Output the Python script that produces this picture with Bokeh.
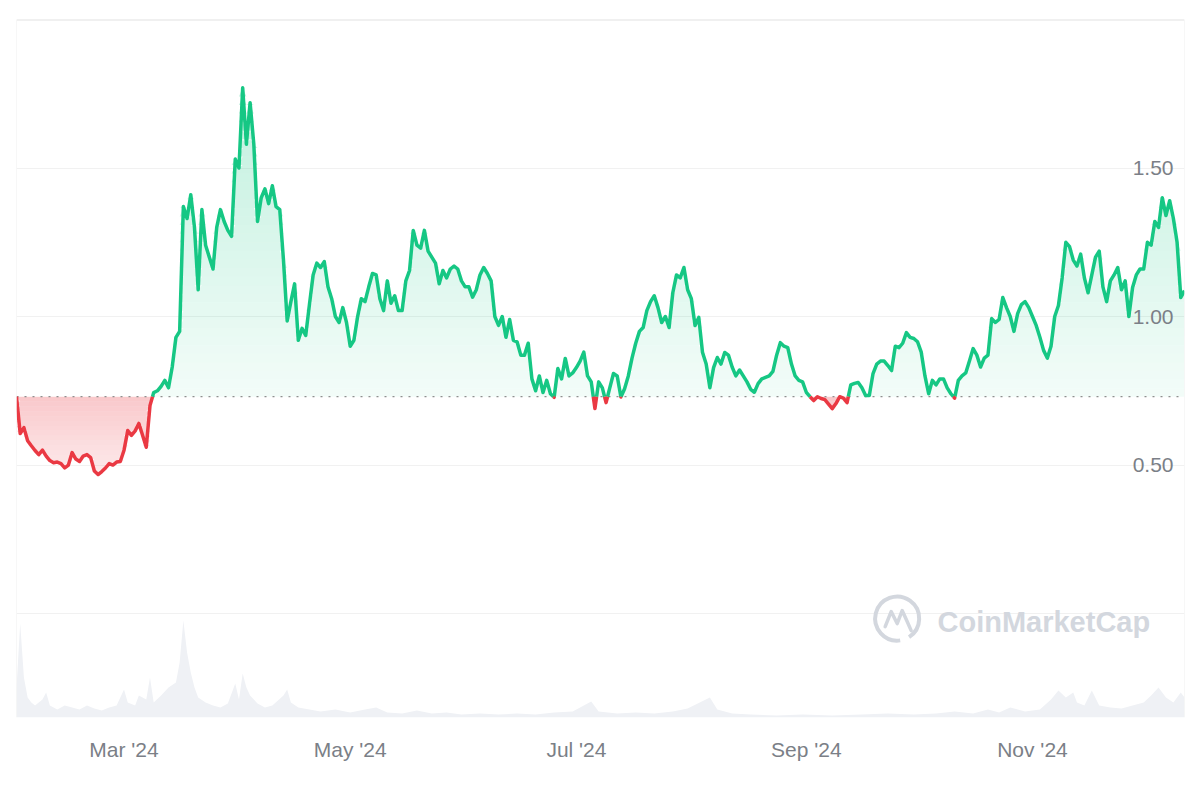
import numpy as np
import pandas as pd
from bokeh.plotting import figure
from bokeh.models import Range1d, FixedTicker, Grid, Span
from bokeh.core.properties import value
from bokeh.embed import file_html
from bokeh.resources import INLINE

# ---------------- data ----------------
start_date = "2024-02-01"   # daily closes from this date
price = [
    0.730, 0.606, 0.626, 0.582, 0.565, 0.549, 0.535, 0.550, 0.530, 0.515,
    0.508, 0.510, 0.505, 0.490, 0.500, 0.542, 0.520, 0.512, 0.530, 0.535,
    0.525, 0.480, 0.468, 0.478, 0.490, 0.505, 0.500, 0.510, 0.512, 0.550,
    0.616, 0.600, 0.615, 0.640, 0.600, 0.560, 0.700, 0.744, 0.750, 0.765,
    0.785, 0.760, 0.830, 0.930, 0.950, 1.370, 1.330, 1.410, 1.300, 1.090,
    1.360, 1.240, 1.200, 1.160, 1.300, 1.360, 1.320, 1.290, 1.270, 1.530,
    1.500, 1.770, 1.580, 1.720, 1.580, 1.320, 1.400, 1.430, 1.380, 1.440,
    1.370, 1.360, 1.190, 0.985, 1.050, 1.110, 0.920, 0.960, 0.936, 1.040,
    1.140, 1.180, 1.165, 1.185, 1.100, 1.060, 1.000, 0.980, 1.030, 0.980,
    0.900, 0.920, 1.000, 1.060, 1.050, 1.100, 1.145, 1.140, 1.060, 1.020,
    1.120, 1.045, 1.070, 1.020, 1.020, 1.120, 1.155, 1.290, 1.240, 1.230,
    1.290, 1.220, 1.200, 1.180, 1.110, 1.155, 1.130, 1.160, 1.170, 1.160,
    1.120, 1.100, 1.100, 1.065, 1.090, 1.140, 1.165, 1.145, 1.120, 1.000,
    0.970, 1.000, 0.930, 0.990, 0.920, 0.915, 0.870, 0.870, 0.910, 0.790,
    0.750, 0.800, 0.744, 0.785, 0.740, 0.728, 0.825, 0.790, 0.859, 0.800,
    0.810, 0.828, 0.850, 0.880, 0.800, 0.780, 0.690, 0.780, 0.760, 0.710,
    0.760, 0.808, 0.800, 0.729, 0.757, 0.800, 0.860, 0.910, 0.950, 0.963,
    1.020, 1.050, 1.070, 1.030, 0.980, 1.000, 0.963, 1.080, 1.140, 1.130,
    1.165, 1.090, 1.060, 0.970, 0.997, 0.880, 0.840, 0.760, 0.828, 0.862,
    0.840, 0.879, 0.870, 0.830, 0.800, 0.820, 0.800, 0.780, 0.755, 0.745,
    0.774, 0.790, 0.795, 0.800, 0.815, 0.870, 0.912, 0.900, 0.895, 0.840,
    0.800, 0.785, 0.780, 0.745, 0.730, 0.717, 0.730, 0.724, 0.720, 0.705,
    0.690, 0.707, 0.730, 0.725, 0.710, 0.770, 0.775, 0.778, 0.760, 0.734,
    0.734, 0.808, 0.840, 0.850, 0.850, 0.835, 0.818, 0.900, 0.895, 0.910,
    0.946, 0.930, 0.926, 0.915, 0.880, 0.800, 0.740, 0.785, 0.770, 0.790,
    0.790, 0.760, 0.740, 0.725, 0.785, 0.800, 0.810, 0.850, 0.892, 0.870,
    0.830, 0.860, 0.870, 0.993, 0.980, 0.990, 1.064, 1.030, 1.000, 0.950,
    1.010, 1.040, 1.050, 1.030, 1.000, 0.970, 0.930, 0.886, 0.860, 0.900,
    1.000, 1.037, 1.130, 1.250, 1.235, 1.190, 1.170, 1.210, 1.130, 1.080,
    1.140, 1.200, 1.220, 1.100, 1.050, 1.120, 1.140, 1.165, 1.090, 1.120,
    1.000, 1.098, 1.140, 1.160, 1.160, 1.250, 1.240, 1.320, 1.300, 1.400,
    1.340, 1.390, 1.330, 1.250, 1.064, 1.087,
]

vol_dates = [
    "2024-02-01", "2024-02-02", "2024-02-03", "2024-02-04", "2024-02-05", "2024-02-06",
    "2024-02-08", "2024-02-09", "2024-02-10", "2024-02-12", "2024-02-14", "2024-02-16",
    "2024-02-18", "2024-02-20", "2024-02-22", "2024-02-24", "2024-02-26", "2024-02-28",
    "2024-03-01", "2024-03-02", "2024-03-04", "2024-03-05", "2024-03-07", "2024-03-08",
    "2024-03-09", "2024-03-11", "2024-03-13", "2024-03-15", "2024-03-16", "2024-03-17",
    "2024-03-18", "2024-03-19", "2024-03-20", "2024-03-21", "2024-03-23", "2024-03-25",
    "2024-03-27", "2024-03-29", "2024-03-31", "2024-04-01", "2024-04-02", "2024-04-03",
    "2024-04-04", "2024-04-06", "2024-04-08", "2024-04-10", "2024-04-13", "2024-04-14",
    "2024-04-15", "2024-04-17", "2024-04-20", "2024-04-23", "2024-04-27", "2024-05-01",
    "2024-05-05", "2024-05-08", "2024-05-11", "2024-05-15", "2024-05-19", "2024-05-23",
    "2024-05-27", "2024-05-31", "2024-06-05", "2024-06-10", "2024-06-15", "2024-06-20",
    "2024-06-25", "2024-06-30", "2024-07-05", "2024-07-07", "2024-07-12", "2024-07-17",
    "2024-07-22", "2024-07-27", "2024-07-31", "2024-08-06", "2024-08-08", "2024-08-12",
    "2024-08-17", "2024-08-24", "2024-08-31", "2024-09-08", "2024-09-16", "2024-09-23",
    "2024-09-30", "2024-10-06", "2024-10-11", "2024-10-16", "2024-10-20", "2024-10-23",
    "2024-10-26", "2024-10-30", "2024-11-03", "2024-11-06", "2024-11-08", "2024-11-10",
    "2024-11-12", "2024-11-13", "2024-11-15", "2024-11-17", "2024-11-19", "2024-11-22",
    "2024-11-25", "2024-11-28", "2024-12-01", "2024-12-03", "2024-12-05", "2024-12-07",
    "2024-12-09", "2024-12-11", "2024-12-12",
]
volume = [  # traded volume, millions
    30, 94, 40, 20, 15, 12,
    18, 25, 12, 8, 12, 10,
    8, 12, 9, 7, 10, 12,
    28, 15, 12, 22, 18, 40,
    15, 22, 30, 35, 55, 97,
    65, 45, 30, 20, 15, 12,
    10, 14, 34, 18, 44, 30,
    22, 14, 10, 12, 22, 28,
    15, 10, 8, 6, 8, 5,
    8, 10, 5, 4, 7, 4,
    5, 3, 4, 3, 4, 3,
    5, 6, 16, 6, 4, 5,
    4, 6, 9, 20, 8, 4,
    3, 2, 3, 2, 3, 4,
    3, 4, 6, 4, 8, 5,
    10, 6, 8, 18, 27, 20,
    25, 15, 12, 27, 12, 10,
    9, 12, 15, 22, 30, 20,
    15, 25, 20,
]

x_tick_dates = ["2024-03-01", "2024-05-01", "2024-07-01", "2024-09-01", "2024-11-01"]
x_tick_labels = ["Mar '24", "May '24", "Jul '24", "Sep '24", "Nov '24"]
y_tick_values = [0.5, 1.0, 1.5]
grid_levels = [0.0, 0.5, 1.0, 1.5]

# ---------------- derived ----------------
GREEN = "#16c784"
RED = "#ea3943"
LABEL = "#7b7f87"
FONT = "Liberation Sans"

dates = pd.date_range(start_date, periods=len(price), freq="D")
t = dates.asi8 / 1e6
pr = np.array(price, dtype=float)
base = pr[0]

# add baseline crossing points so the colour switches exactly at the baseline
xa, ya = [t[0]], [pr[0]]
for i in range(1, len(pr)):
    y0, y1 = pr[i - 1], pr[i]
    if (y0 - base) * (y1 - base) < 0:
        f = (base - y0) / (y1 - y0)
        xa.append(t[i - 1] + f * (t[i] - t[i - 1]))
        ya.append(base)
    xa.append(t[i])
    ya.append(y1)
xa = np.array(xa)
ya = np.array(ya)
green_y = np.where(ya >= base, ya, np.nan)
red_y = np.where(ya <= base, ya, np.nan)

vt = pd.to_datetime(vol_dates).asi8 / 1e6

y_lo, y_hi = -0.35, 2.0
p = figure(width=1200, height=800, x_axis_type="datetime", y_axis_location=None,
           x_range=Range1d(t[0], t[-1]), y_range=Range1d(y_lo, y_hi),
           output_backend="svg", toolbar_location=None,
           min_border_left=16, min_border_right=16, min_border_top=19, min_border_bottom=83,
           background_fill_color="white", border_fill_color="white")
p.outline_line_color = None
p.grid.visible = False
p.add_layout(Grid(dimension=1, ticker=FixedTicker(ticks=grid_levels),
                  grid_line_color="#f1f1f1", grid_line_width=1))

# volume (own hidden scale)
p.extra_y_ranges = {"vol": Range1d(0, 698)}
p.varea(x=vt, y1=0, y2=volume, y_range_name="vol", fill_color="#eff1f5", fill_alpha=1)

# gradient-like area fills (vertical banding)
top = pr.max()
nb = 36
edges = np.linspace(base, top, nb + 1)
for k in range(nb):
    lo, hi = edges[k], edges[k + 1]
    a = 0.05 + 0.22 * (k + 0.5) / nb
    p.varea(x=xa, y1=lo, y2=np.clip(ya, lo, hi), fill_color=GREEN, fill_alpha=a)
bot = pr.min()
nr = 16
edges_r = np.linspace(bot, base, nr + 1)
for k in range(nr):
    lo, hi = edges_r[k], edges_r[k + 1]
    a = 0.10 + 0.18 * (k + 0.5) / nr
    p.varea(x=xa, y1=np.clip(ya, lo, hi), y2=hi, fill_color=RED, fill_alpha=a)

# dotted baseline (opening price)
p.line(x=[t[0], t[-1]], y=[base, base], line_color="#8f8f8f", line_width=1.3, line_dash="2 6")

# price line
p.line(x=xa, y=green_y, line_color=GREEN, line_width=3.5, line_join="round")
p.line(x=xa, y=red_y, line_color=RED, line_width=3.5, line_join="round")

# frame borders
p.add_layout(Span(location=y_hi, dimension="width", line_color="#e2e2e2", line_width=2))
p.add_layout(Span(location=t[0], dimension="height", line_color="#efefef", line_width=1))
p.add_layout(Span(location=t[-1], dimension="height", line_color="#efefef", line_width=1))

# y labels inside the plot, right aligned
p.text(x=[t[-1]] * len(y_tick_values), y=y_tick_values,
       text=[f"{v:.2f}" for v in y_tick_values],
       text_align="right", text_baseline="middle", x_offset=-11,
       text_font=value(FONT), text_font_size="21px", text_color=LABEL)

# x axis
tick_ms = [int(v) for v in pd.to_datetime(x_tick_dates).asi8 // 10**6]
xa_ax = p.xaxis[0]
xa_ax.ticker = FixedTicker(ticks=tick_ms)
xa_ax.major_label_overrides = {k: lab for k, lab in zip(tick_ms, x_tick_labels)}
xa_ax.axis_line_color = None
xa_ax.major_tick_line_color = None
xa_ax.minor_tick_line_color = None
xa_ax.major_label_standoff = 14
xa_ax.major_label_text_font = FONT
xa_ax.major_label_text_font_size = "21px"
xa_ax.major_label_text_color = LABEL

# watermark
span_t = t[-1] - t[0]
px_t = span_t / 1168.0
px_y = (y_hi - y_lo) / 698.0
wm_col = "#d3d7de"
cx = t[0] + 0.754 * span_t
cy = -0.017
p.arc(x=[cx], y=[cy], radius=22, radius_units="screen", start_angle=-1.0, end_angle=4.85,
      line_color=wm_col, line_width=4)
zx = [-12, -6, 0, 5, 10, 14]
zy = [-8, 7, -5, 8, -3, -12]
p.line(x=[cx + d * px_t for d in zx], y=[cy + d * px_y for d in zy],
       line_color=wm_col, line_width=3.5, line_join="round", line_cap="round")
p.text(x=[t[0] + 0.7885 * span_t], y=[-0.03], text=["CoinMarketCap"],
       text_align="left", text_baseline="middle",
       text_font=value(FONT), text_font_style="bold", text_font_size="29px",
       text_color=wm_col)

open("out.html", "w").write(file_html(p, INLINE))
